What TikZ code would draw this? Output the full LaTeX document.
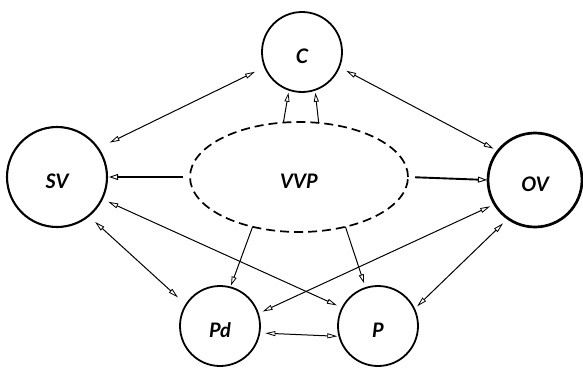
\documentclass[tikz,border=0pt]{standalone}
\usepackage{fontspec}
\setmainfont{Lato}
\usetikzlibrary{arrows.meta,shapes.geometric}
\begin{document}
\begin{tikzpicture}[x=1pt,y=-1pt,
  every node/.style={inner sep=0pt, outer sep=0pt,
    font=\fontsize{20}{22}\selectfont\bfseries\itshape},
  state/.style={circle, draw, line width=1.8pt, minimum size=#1},
  tag/.style={label={[yshift=-4pt]center:#1}},
  hub/.style={ellipse, draw, line width=1.7pt, dash pattern=on 9pt off 5pt,
    minimum width=218pt, minimum height=110pt},
  link/.style={{Triangle[open, length=10pt, width=5pt, line width=0.8pt]}-{Triangle[open, length=10pt, width=5pt, line width=0.8pt]}, line width=1pt},
  flow/.style={-{Triangle[open, length=9pt, width=5pt, line width=0.8pt]}, line width=1pt},
  bigflow/.style={-{Triangle[open, length=9pt, width=6pt, line width=0.9pt]}, line width=1.9pt}
]
\useasboundingbox (0,0) rectangle (583,367);

% nodes, labels set slightly below centre
\node[state=80pt, tag=C] (C) at (302,52) {};
\node[state=100pt, line width=2.1pt, tag=SV] (SV) at (57,177) {};
\node[state=94pt, line width=2.7pt, tag=OV] (OV) at (535,180) {};
\node[state=80pt, tag=Pd] (Pd) at (220,326) {};
\node[state=80pt, tag=P] (P) at (378,326) {};
\node[hub, tag=VVP] (VVP) at (299,177) {};

% mutual links
\draw[link, shorten <=11pt, shorten >=13pt] (C.202) -- (SV.35);
\draw[link, shorten <=8pt, shorten >=5pt] (C.338) -- (OV.142);
\draw[link, shorten <=9pt, shorten >=11pt] (SV.309) -- (Pd.148);
\draw[link, shorten <=7pt, shorten >=6pt] (SV.334) -- (P.153);
\draw[link, shorten <=5pt, shorten >=5pt] (OV.211) -- (Pd.18);
\draw[link, shorten <=7pt, shorten >=4pt] (OV.235) -- (P.25);
\draw[link, shorten <=6pt, shorten >=2pt] (Pd.350) -- (P.195);

% influences from VVP
\draw[flow, shorten >=3pt] (VVP.106) -- (C.251);
\draw[flow, shorten >=3pt] (VVP.70) -- (C.289);
\draw[bigflow, shorten <=7pt, shorten >=2pt] (VVP.west) -- (SV.east);
\draw[bigflow, shorten <=7pt, shorten >=1pt] (VVP.east) -- (OV.west);
\draw[flow, shorten >=2pt] (VVP.227) -- (Pd.75);
\draw[flow, shorten >=5pt] (VVP.313) -- (P.108);
\end{tikzpicture}
\end{document}
